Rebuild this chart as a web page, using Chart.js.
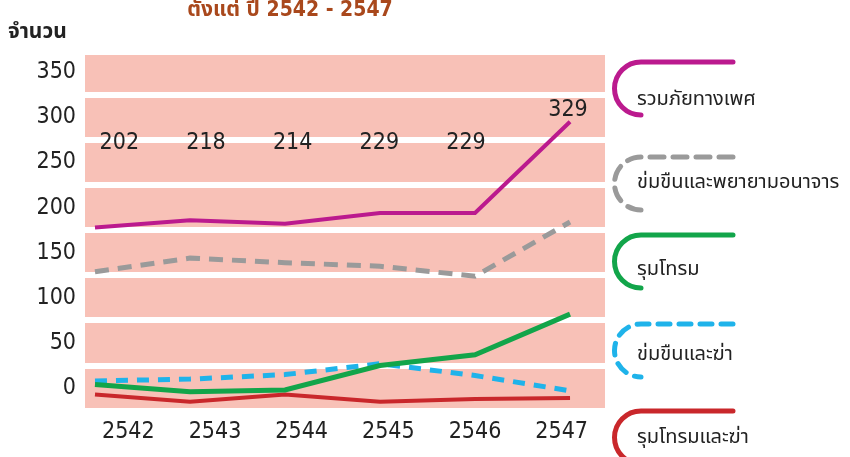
<!DOCTYPE html>
<html>
<head>
<meta charset="utf-8">
<script src="https://cdn.jsdelivr.net/npm/chart.js@4/dist/chart.umd.min.js"></script>
<style>
  html, body { margin: 0; background: #fff; }
</style>
</head>
<body>
<canvas id="chart" width="850" height="457"></canvas>
<script>
const years = ["2542", "2543", "2544", "2545", "2546", "2547"];
const yearNums = [2542, 2543, 2544, 2545, 2546, 2547];

// values as drawn on the picture
const sexualTotal = [178, 186, 182, 194, 194, 295];
const attemptedRape = [129, 144, 139, 135, 124, 184];
const gangRape = [4, -4, -2, 25, 37, 82];
const rapeMurder = [8, 10, 15, 27, 14, -3];
const gangRapeMurder = [-7, -15, -7, -15, -12, -11];

// numbers printed above the top line
const totalLabels = [202, 218, 214, 229, 229, 329];

const yTicks = [0, 50, 100, 150, 200, 250, 300, 350];
const bandEdges = [25, 75, 125, 175, 225, 275, 325];

const seriesNames = [
  "รวมภัยทางเพศ",
  "ข่มขืนและพยายามอนาจาร",
  "รุมโทรม",
  "ข่มขืนและฆ่า",
  "รุมโทรมและฆ่า",
];

const FONT = '"DejaVu Sans Condensed", "Liberation Sans", "Noto Sans Thai", "Noto Sans", sans-serif';

const pts = (arr) => arr.map((v, i) => ({ x: yearNums[i], y: v }));

const bgPlugin = {
  id: "bg",
  beforeDraw(chart) {
    const { ctx, chartArea: a } = chart;
    ctx.save();
    ctx.fillStyle = "#f8c1b7";
    ctx.fillRect(a.left, a.top, a.right - a.left, a.bottom - a.top);
    ctx.restore();
  },
};

const textPlugin = {
  id: "texts",
  afterDatasetsDraw(chart) {
    const { ctx } = chart;
    const x2 = chart.scales.x2;
    const x = chart.scales.x;
    const y = chart.scales.y;
    ctx.save();

    // title (cut at top)
    ctx.fillStyle = "#a9481c";
    ctx.font = "bold 21px " + FONT;
    ctx.textAlign = "center";
    ctx.textBaseline = "alphabetic";
    ctx.fillText("ตั้งแต่ ปี 2542 - 2547", 290, 16);

    // y axis caption
    ctx.fillStyle = "#222";
    ctx.font = "bold 21px " + FONT;
    ctx.textAlign = "left";
    ctx.fillText("จำนวน", 8, 38);

    // printed totals
    ctx.font = "23px " + FONT;
    ctx.textAlign = "center";
    ctx.textBaseline = "middle";
    totalLabels.forEach((v, i) => {
      if (i < 5) {
        ctx.fillText(String(v), x2.getPixelForValue(i) - 9, 143);
      } else {
        ctx.fillText(String(v), x.getPixelForValue(yearNums[i]) - 2, y.getPixelForValue(sexualTotal[i]) - 12);
      }
    });

    // legend brackets
    const tops = [62, 157, 235, 324, 411];
    const textYs = [100, 183, 270, 355, 438];
    const r = 26.5;
    chart.data.datasets.forEach((ds, i) => {
      const top = tops[i];
      ctx.beginPath();
      ctx.strokeStyle = ds.borderColor;
      ctx.lineWidth = 5;
      ctx.lineCap = "round";
      ctx.setLineDash(ds.borderDash || []);
      ctx.moveTo(733, top);
      ctx.lineTo(641, top);
      ctx.arc(641, top + r, r, -Math.PI / 2, Math.PI / 2, true);
      ctx.stroke();
      ctx.setLineDash([]);
      ctx.fillStyle = "#222";
      ctx.font = "20px " + FONT;
      ctx.textAlign = "left";
      ctx.textBaseline = "middle";
      ctx.fillText(seriesNames[i], 637, textYs[i]);
    });
    ctx.restore();
  },
};

new Chart(document.getElementById("chart"), {
  type: "line",
  data: {
    datasets: [
      {
        label: seriesNames[0],
        data: pts(sexualTotal),
        borderColor: "#bb1a8e",
        borderWidth: 4,
      },
      {
        label: seriesNames[1],
        data: pts(attemptedRape),
        borderColor: "#9a9a9a",
        borderWidth: 5,
        borderDash: [14, 9],
      },
      {
        label: seriesNames[2],
        data: pts(gangRape),
        borderColor: "#12a54a",
        borderWidth: 5,
      },
      {
        label: seriesNames[3],
        data: pts(rapeMurder),
        borderColor: "#1fb3ea",
        borderWidth: 5,
        borderDash: [12, 9],
      },
      {
        label: seriesNames[4],
        data: pts(gangRapeMurder),
        borderColor: "#c9272b",
        borderWidth: 4,
      },
    ],
  },
  options: {
    responsive: false,
    animation: false,
    layout: { padding: { left: 5, right: 245, top: 55, bottom: 0 } },
    elements: { point: { radius: 0 }, line: { tension: 0 } },
    plugins: { legend: { display: false }, tooltip: { enabled: false } },
    scales: {
      x: {
        type: "linear",
        min: 2541.895,
        max: 2547.368,
        display: false,
      },
      x2: {
        type: "category",
        labels: years,
        position: "bottom",
        offset: true,
        grid: { display: false },
        border: { display: false },
        ticks: { color: "#222", font: { size: 23, family: FONT }, padding: 2 },
        afterFit(s) { s.height = 49; },
      },
      y: {
        min: -22,
        max: 369,
        position: "left",
        grid: { display: false },
        border: { display: false },
        afterBuildTicks(s) { s.ticks = yTicks.map((v) => ({ value: v })); },
        ticks: { color: "#222", font: { size: 23, family: FONT }, padding: 1 },
        afterFit(s) { s.width = 80; },
      },
      yg: {
        min: -22,
        max: 369,
        position: "right",
        afterBuildTicks(s) { s.ticks = bandEdges.map((v) => ({ value: v })); },
        ticks: { display: false },
        grid: { color: "#ffffff", lineWidth: 6, drawTicks: false },
        border: { display: false },
        afterFit(s) { s.width = 0; },
      },
    },
  },
  plugins: [bgPlugin, textPlugin],
});
</script>
</body>
</html>
